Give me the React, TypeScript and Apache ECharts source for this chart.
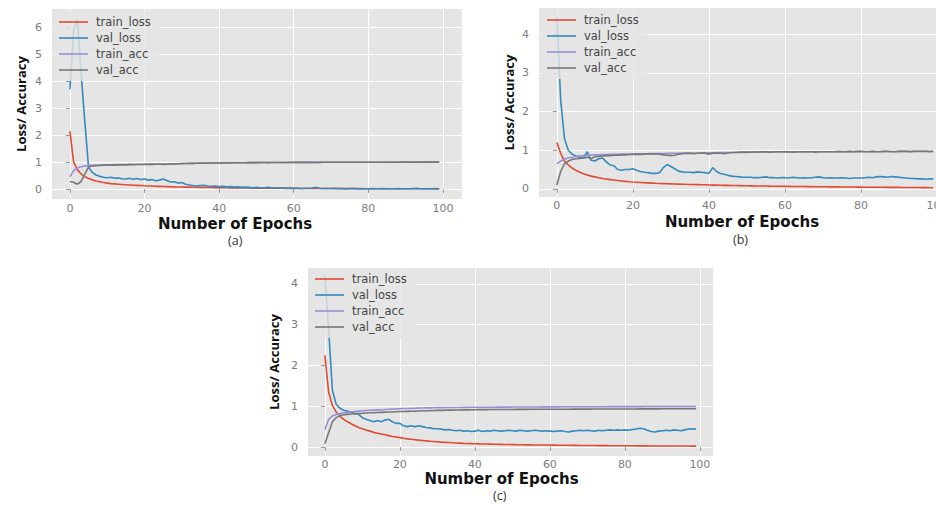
import React, { useEffect, useRef } from "react";
import * as echarts from "echarts";

// ---------- data ----------
const SERIES_NAMES = ["train_loss", "val_loss", "train_acc", "val_acc"];
const X_TICKS = [0, 20, 40, 60, 80, 100];
const Y_TICKS_A = [0, 1, 2, 3, 4, 5, 6];
const Y_TICKS_B = [0, 1, 2, 3, 4];
const Y_TICKS_C = [0, 1, 2, 3, 4];
const PANEL_LABELS = ["(a)", "(b)", "(c)"];
const X_TITLE = "Number of Epochs";
const Y_TITLE = "Loss/ Accuracy";

const A_trainLoss = [
  2.15, 1.0, 0.72, 0.56, 0.46, 0.39, 0.34, 0.3, 0.27, 0.24,
  0.22, 0.2, 0.19, 0.18, 0.17, 0.16, 0.15, 0.14, 0.135, 0.13,
  0.12, 0.115, 0.11, 0.105, 0.1, 0.095, 0.09, 0.085, 0.08, 0.078,
  0.075, 0.072, 0.07, 0.067, 0.065, 0.062, 0.06, 0.057, 0.055, 0.052,
  0.05, 0.048, 0.046, 0.044, 0.042, 0.04, 0.039, 0.038, 0.036, 0.035,
  0.034, 0.033, 0.032, 0.031, 0.03, 0.029, 0.028, 0.027, 0.026, 0.025,
  0.024, 0.023, 0.022, 0.022, 0.021, 0.02, 0.02, 0.019, 0.018, 0.018,
  0.017, 0.017, 0.016, 0.016, 0.015, 0.015, 0.014, 0.014, 0.013, 0.013,
  0.012, 0.012, 0.012, 0.011, 0.011, 0.011, 0.01, 0.01, 0.01, 0.01,
  0.009, 0.009, 0.009, 0.009, 0.008, 0.008, 0.008, 0.008, 0.008, 0.007,
];
const A_valLoss = [
  3.7, 5.9, 6.3, 4.3, 2.5, 0.8, 0.62, 0.52, 0.47, 0.44,
  0.42, 0.44, 0.4, 0.41, 0.38, 0.37, 0.4, 0.36, 0.39, 0.35,
  0.37, 0.33, 0.35, 0.31, 0.33, 0.37, 0.32, 0.26, 0.27, 0.22,
  0.24, 0.18, 0.15, 0.13, 0.12, 0.13, 0.14, 0.11, 0.1, 0.11,
  0.09, 0.1, 0.08, 0.09, 0.07, 0.08, 0.06, 0.07, 0.06, 0.05,
  0.06, 0.05, 0.05, 0.06, 0.05, 0.04, 0.04, 0.05, 0.03, 0.04,
  0.03, 0.03, 0.02, 0.03, 0.03, 0.04, 0.06, 0.03, 0.02, 0.02,
  0.02, 0.03, 0.02, 0.02, 0.01, 0.02, 0.02, 0.01, 0.02, 0.01,
  0.01, 0.02, 0.01, 0.01, 0.02, 0.01, 0.01, 0.01, 0.02, 0.01,
  0.01, 0.01, 0.02, 0.03, 0.01, 0.01, 0.01, 0.01, 0.02, 0.01,
];
const A_trainAcc = [
  0.45, 0.68, 0.78, 0.83, 0.86, 0.87, 0.88, 0.885, 0.89, 0.895,
  0.9, 0.902, 0.905, 0.907, 0.91, 0.912, 0.914, 0.916, 0.918, 0.92,
  0.921, 0.922, 0.924, 0.925, 0.927, 0.929, 0.931, 0.934, 0.937, 0.94,
  0.943, 0.946, 0.949, 0.952, 0.955, 0.958, 0.96, 0.962, 0.965, 0.967,
  0.969, 0.97, 0.972, 0.973, 0.974, 0.975, 0.976, 0.977, 0.978, 0.979,
  0.98, 0.981, 0.982, 0.983, 0.984, 0.985, 0.985, 0.986, 0.987, 0.987,
  0.988, 0.988, 0.989, 0.989, 0.99, 0.99, 0.99, 0.991, 0.991, 0.991,
  0.992, 0.992, 0.992, 0.993, 0.993, 0.993, 0.993, 0.994, 0.994, 0.994,
  0.994, 0.995, 0.995, 0.995, 0.995, 0.995, 0.996, 0.996, 0.996, 0.996,
  0.996, 0.997, 0.997, 0.997, 0.997, 0.997, 0.997, 0.998, 0.998, 0.998,
];
const A_valAcc = [
  0.28, 0.25, 0.18, 0.28, 0.55, 0.82, 0.86, 0.87, 0.875, 0.88,
  0.885, 0.89, 0.888, 0.895, 0.9, 0.898, 0.905, 0.9, 0.91, 0.908,
  0.912, 0.915, 0.913, 0.918, 0.92, 0.915, 0.922, 0.93, 0.935, 0.94,
  0.945, 0.95, 0.955, 0.952, 0.958, 0.96, 0.955, 0.963, 0.966, 0.965,
  0.968, 0.97, 0.972, 0.97, 0.974, 0.975, 0.977, 0.976, 0.978, 0.98,
  0.979, 0.982, 0.983, 0.98, 0.984, 0.985, 0.986, 0.985, 0.987, 0.988,
  0.988, 0.989, 0.99, 0.989, 0.99, 0.988, 0.985, 0.99, 0.991, 0.992,
  0.992, 0.991, 0.993, 0.993, 0.994, 0.993, 0.994, 0.995, 0.994, 0.995,
  0.995, 0.995, 0.996, 0.995, 0.996, 0.996, 0.996, 0.997, 0.996, 0.997,
  0.997, 0.997, 0.996, 0.995, 0.997, 0.998, 0.998, 0.997, 0.998, 0.998,
];

const B_trainLoss = [
  1.2, 0.92, 0.72, 0.62, 0.54, 0.48, 0.43, 0.39, 0.36, 0.33,
  0.31, 0.29, 0.27, 0.255, 0.24, 0.23, 0.215, 0.205, 0.195, 0.185,
  0.178, 0.172, 0.166, 0.16, 0.155, 0.15, 0.145, 0.141, 0.137, 0.133,
  0.13, 0.127, 0.124, 0.121, 0.118, 0.115, 0.112, 0.11, 0.107, 0.105,
  0.1, 0.098, 0.096, 0.094, 0.092, 0.09, 0.088, 0.086, 0.084, 0.082,
  0.08, 0.079, 0.077, 0.076, 0.074, 0.073, 0.071, 0.07, 0.068, 0.067,
  0.065, 0.064, 0.063, 0.062, 0.061, 0.06, 0.059, 0.058, 0.057, 0.056,
  0.055, 0.054, 0.053, 0.052, 0.051, 0.05, 0.049, 0.048, 0.047, 0.046,
  0.045, 0.044, 0.044, 0.043, 0.042, 0.041, 0.041, 0.04, 0.039, 0.039,
  0.038, 0.037, 0.037, 0.036, 0.035, 0.034, 0.033, 0.032, 0.031, 0.03,
];
const B_valLoss = [
  4.45, 2.3, 1.3, 1.0, 0.9, 0.85, 0.82, 0.8, 0.96, 0.74,
  0.72, 0.78, 0.8, 0.7, 0.62, 0.6, 0.5, 0.48, 0.5, 0.5,
  0.52, 0.48, 0.45, 0.43, 0.42, 0.4, 0.4, 0.42, 0.55, 0.63,
  0.58, 0.52, 0.46, 0.44, 0.43, 0.43, 0.42, 0.44, 0.43, 0.42,
  0.4, 0.55, 0.45, 0.4, 0.38, 0.35, 0.33, 0.32, 0.31, 0.3,
  0.3, 0.3, 0.29, 0.29, 0.3, 0.31, 0.29, 0.29, 0.28, 0.29,
  0.29, 0.28, 0.3, 0.29, 0.28, 0.29, 0.28, 0.29, 0.3, 0.31,
  0.29, 0.28, 0.29, 0.28, 0.28, 0.29, 0.28, 0.27, 0.28, 0.28,
  0.28, 0.29, 0.3, 0.29, 0.31, 0.32, 0.31, 0.3, 0.32, 0.31,
  0.3, 0.29, 0.28, 0.27, 0.27, 0.26, 0.26, 0.25, 0.26, 0.26,
];
const B_trainAcc = [
  0.65, 0.72, 0.77, 0.8, 0.82, 0.84, 0.85, 0.86, 0.87, 0.875,
  0.88, 0.883, 0.886, 0.889, 0.892, 0.895, 0.897, 0.899, 0.901, 0.903,
  0.905, 0.907, 0.908, 0.91, 0.911, 0.913, 0.914, 0.916, 0.917, 0.918,
  0.92, 0.921, 0.923, 0.924, 0.925, 0.927, 0.928, 0.93, 0.931, 0.933,
  0.935, 0.936, 0.937, 0.938, 0.939, 0.94, 0.941, 0.942, 0.943, 0.944,
  0.945, 0.946, 0.947, 0.948, 0.949, 0.95, 0.951, 0.952, 0.953, 0.954,
  0.955, 0.955, 0.956, 0.957, 0.957, 0.958, 0.958, 0.959, 0.959, 0.96,
  0.96, 0.961, 0.961, 0.962, 0.962, 0.963, 0.963, 0.964, 0.964, 0.965,
  0.965, 0.966, 0.966, 0.967, 0.967, 0.968, 0.968, 0.968, 0.969, 0.969,
  0.97, 0.97, 0.971, 0.971, 0.972, 0.972, 0.973, 0.973, 0.974, 0.975,
];
const B_valAcc = [
  0.1, 0.45, 0.65, 0.72, 0.76, 0.78, 0.79, 0.8, 0.82, 0.78,
  0.83, 0.84, 0.85, 0.86, 0.86, 0.87, 0.87, 0.88, 0.88, 0.89,
  0.89, 0.9, 0.89, 0.9, 0.91, 0.9, 0.91, 0.9, 0.88, 0.87,
  0.86, 0.87, 0.9, 0.91, 0.92, 0.92, 0.91, 0.92, 0.93, 0.92,
  0.9, 0.92, 0.93, 0.92, 0.91, 0.93, 0.94, 0.94, 0.95, 0.95,
  0.95, 0.95, 0.96, 0.95, 0.96, 0.96, 0.95, 0.96, 0.96, 0.96,
  0.96, 0.96, 0.95, 0.96, 0.96, 0.96, 0.96, 0.96, 0.95, 0.96,
  0.96, 0.96, 0.96, 0.96, 0.97, 0.96, 0.96, 0.97, 0.96, 0.97,
  0.97, 0.96, 0.96, 0.97, 0.96, 0.96, 0.97, 0.97, 0.96, 0.96,
  0.97, 0.97, 0.97, 0.96, 0.97, 0.97, 0.97, 0.97, 0.96, 0.97,
];

const C_trainLoss = [
  2.25, 1.35, 1.02, 0.86, 0.76, 0.68, 0.62, 0.57, 0.52, 0.48,
  0.45, 0.42, 0.39, 0.36, 0.34, 0.32, 0.3, 0.28, 0.26, 0.245,
  0.23, 0.215, 0.2, 0.19, 0.18, 0.17, 0.16, 0.15, 0.14, 0.135,
  0.13, 0.12, 0.115, 0.11, 0.105, 0.1, 0.095, 0.09, 0.087, 0.084,
  0.08, 0.078, 0.075, 0.073, 0.071, 0.069, 0.067, 0.065, 0.063, 0.061,
  0.06, 0.058, 0.057, 0.055, 0.054, 0.052, 0.051, 0.05, 0.049, 0.048,
  0.047, 0.046, 0.045, 0.044, 0.043, 0.042, 0.041, 0.04, 0.039, 0.038,
  0.038, 0.037, 0.036, 0.035, 0.035, 0.034, 0.033, 0.033, 0.032, 0.031,
  0.031, 0.03, 0.03, 0.029, 0.029, 0.028, 0.028, 0.027, 0.027, 0.026,
  0.026, 0.026, 0.025, 0.025, 0.025, 0.024, 0.024, 0.024, 0.023, 0.023,
];
const C_valLoss = [
  4.2, 2.9, 1.4, 1.05, 0.95, 0.9, 0.88, 0.85, 0.82, 0.8,
  0.72, 0.68, 0.65, 0.62, 0.65, 0.62, 0.66, 0.68, 0.62, 0.58,
  0.58, 0.52, 0.5, 0.52, 0.5, 0.52, 0.5, 0.48, 0.47, 0.45,
  0.45, 0.44, 0.42, 0.43, 0.41, 0.4, 0.41, 0.39, 0.4, 0.38,
  0.39, 0.41, 0.38, 0.4, 0.39, 0.41, 0.4, 0.39, 0.4, 0.41,
  0.4, 0.39, 0.41, 0.4, 0.39, 0.4, 0.41, 0.4, 0.39, 0.4,
  0.39, 0.38, 0.39, 0.4, 0.38, 0.37, 0.39, 0.4, 0.41, 0.4,
  0.41, 0.4, 0.39, 0.41, 0.4, 0.41, 0.42, 0.41, 0.42, 0.41,
  0.42, 0.41, 0.43, 0.44, 0.46, 0.45, 0.41, 0.38, 0.37, 0.39,
  0.4, 0.41, 0.4, 0.42, 0.41, 0.4, 0.42, 0.44, 0.45, 0.44,
];
const C_trainAcc = [
  0.43, 0.68, 0.76, 0.8, 0.82, 0.84, 0.85, 0.86, 0.87, 0.88,
  0.89, 0.895, 0.9, 0.905, 0.91, 0.915, 0.92, 0.925, 0.93, 0.935,
  0.94, 0.943, 0.946, 0.949, 0.952, 0.955, 0.957, 0.959, 0.961, 0.963,
  0.965, 0.966, 0.967, 0.968, 0.969, 0.97, 0.971, 0.972, 0.973, 0.974,
  0.975, 0.975, 0.976, 0.976, 0.977, 0.977, 0.978, 0.978, 0.979, 0.979,
  0.98, 0.98, 0.981, 0.981, 0.982, 0.982, 0.983, 0.983, 0.984, 0.984,
  0.985, 0.985, 0.985, 0.986, 0.986, 0.986, 0.987, 0.987, 0.987, 0.988,
  0.988, 0.988, 0.989, 0.989, 0.989, 0.989, 0.99, 0.99, 0.99, 0.99,
  0.99, 0.991, 0.991, 0.991, 0.991, 0.992, 0.992, 0.992, 0.992, 0.993,
  0.993, 0.993, 0.993, 0.994, 0.994, 0.994, 0.994, 0.995, 0.995, 0.995,
];
const C_valAcc = [
  0.08, 0.35, 0.62, 0.72, 0.77, 0.79, 0.8, 0.81, 0.82, 0.82,
  0.83, 0.835, 0.84, 0.84, 0.845, 0.85, 0.855, 0.86, 0.86, 0.865,
  0.87, 0.872, 0.875, 0.878, 0.88, 0.885, 0.888, 0.89, 0.892, 0.895,
  0.898, 0.9, 0.902, 0.904, 0.905, 0.907, 0.908, 0.91, 0.912, 0.913,
  0.915, 0.916, 0.917, 0.918, 0.919, 0.92, 0.92, 0.921, 0.921, 0.922,
  0.922, 0.923, 0.923, 0.924, 0.924, 0.925, 0.925, 0.925, 0.926, 0.926,
  0.927, 0.927, 0.927, 0.928, 0.928, 0.928, 0.929, 0.929, 0.929, 0.93,
  0.93, 0.93, 0.931, 0.931, 0.931, 0.932, 0.932, 0.932, 0.933, 0.933,
  0.933, 0.934, 0.934, 0.934, 0.935, 0.935, 0.935, 0.936, 0.936, 0.936,
  0.937, 0.937, 0.937, 0.938, 0.938, 0.938, 0.939, 0.939, 0.94, 0.94,
];

// ---------- styles / layout ----------
const COLORS = ["#E24A33", "#348ABD", "#988ED5", "#777777"];
const PANEL_BG = "#E5E5E5";
const TICK_COLOR = "#7c7c7c";

const PANELS = [
  {
    data: [A_trainLoss, A_valLoss, A_trainAcc, A_valAcc],
    yTicks: Y_TICKS_A,
    grid: { left: 52, top: 9, width: 410, height: 190 },
    x: [-4.8, 105.1],
    y: [-0.37, 6.68],
    legend: { left: 53, top: 11 },
    xLabelMargin: 4,
    xNameGap: 16.5,
    xNameShift: 22,
    yNameGap: 25,
    label: { x: 237, y: 242 },
  },
  {
    data: [B_trainLoss, B_valLoss, B_trainAcc, B_valAcc],
    yTicks: Y_TICKS_B,
    grid: { left: 539, top: 8, width: 414, height: 189 },
    x: [-4.7, 104.2],
    y: [-0.21, 4.68],
    legend: { left: 541, top: 9 },
    xLabelMargin: 3,
    xNameGap: 16,
    xNameShift: 4,
    yNameGap: 24,
    label: { x: 742, y: 241 },
  },
  {
    data: [C_trainLoss, C_valLoss, C_trainAcc, C_valAcc],
    yTicks: Y_TICKS_C,
    grid: { left: 308, top: 268, width: 405, height: 188 },
    x: [-4.5, 103.5],
    y: [-0.22, 4.39],
    legend: { left: 309, top: 268 },
    xLabelMargin: 2.5,
    xNameGap: 14.5,
    xNameShift: 9,
    yNameGap: 28,
    label: { x: 502, y: 497 },
  },
];

function buildOption() {
  const grid: any[] = [];
  const xAxis: any[] = [];
  const yAxis: any[] = [];
  const series: any[] = [];
  const legend: any[] = [];
  const graphic: any[] = [];

  PANELS.forEach((p, i) => {
    grid.push({
      ...p.grid,
      show: true,
      backgroundColor: PANEL_BG,
      borderWidth: 0,
      containLabel: false,
      outerBoundsMode: "none",
    });
    xAxis.push({
      type: "value",
      gridIndex: i,
      min: p.x[0],
      max: p.x[1],
      name: X_TITLE,
      nameLocation: "middle",
      nameGap: p.xNameGap,
      nameTextStyle: {
        fontFamily: "DejaVu Sans",
        fontWeight: "bold",
        fontSize: 15,
        lineHeight: 17,
        color: "#111",
        padding: [0, p.xNameShift * 2, 0, 0],
      },
      axisLine: { show: false },
      axisTick: {
        show: true,
        length: 4,
        lineStyle: { color: "#999", width: 1 },
        customValues: X_TICKS,
      },
      axisLabel: {
        show: true,
        margin: p.xLabelMargin,
        color: TICK_COLOR,
        fontFamily: "DejaVu Sans",
        fontSize: 11,
        lineHeight: 11,
        customValues: X_TICKS,
      },
      splitLine: { show: true, lineStyle: { color: "#ffffff", width: 1 } },
    });
    yAxis.push({
      type: "value",
      gridIndex: i,
      min: p.y[0],
      max: p.y[1],
      name: Y_TITLE,
      nameLocation: "middle",
      nameGap: p.yNameGap,
      nameTextStyle: {
        fontFamily: "Open Sans",
        fontWeight: "bold",
        fontSize: 13,
        lineHeight: 13,
        color: "#111",
      },
      axisLine: { show: false },
      axisTick: {
        show: true,
        length: 4,
        lineStyle: { color: "#999", width: 1 },
        customValues: p.yTicks,
      },
      axisLabel: {
        show: true,
        margin: 10,
        color: TICK_COLOR,
        fontFamily: "DejaVu Sans",
        fontSize: 11,
        customValues: p.yTicks,
      },
      splitLine: { show: true, lineStyle: { color: "#ffffff", width: 1 } },
    });
    p.data.forEach((arr, k) => {
      series.push({
        type: "line",
        name: SERIES_NAMES[k],
        xAxisIndex: i,
        yAxisIndex: i,
        data: arr.map((v, e) => [e, v]),
        symbol: "none",
        showSymbol: false,
        clip: true,
        silent: true,
        lineStyle: { color: COLORS[k], width: 1.6 },
        itemStyle: { color: COLORS[k] },
        z: 2 + k,
      });
    });
    legend.push({
      orient: "vertical",
      left: p.legend.left,
      top: p.legend.top,
      data: SERIES_NAMES.map((n) => ({ name: n, icon: "rect" })),
      selectedMode: false,
      itemWidth: 29,
      itemHeight: 1.6,
      itemGap: 4,
      padding: [5, 8, 5, 6],
      backgroundColor: "rgba(229,229,229,0.8)",
      borderRadius: 3,
      textStyle: {
        fontFamily: "DejaVu Sans",
        fontSize: 11.5,
        color: "#444",
        lineHeight: 10,
        padding: [0, 0, 0, 3],
      },
    });
    graphic.push({
      type: "text",
      left: p.label.x - 9,
      top: p.label.y - 8,
      style: {
        text: PANEL_LABELS[i],
        fontFamily: "Open Sans",
        fontSize: 12.5,
        fill: "#333",
      },
    });
  });

  return {
    animation: false,
    backgroundColor: "#ffffff",
    grid,
    xAxis,
    yAxis,
    series,
    legend,
    graphic,
  };
}

export default function App() {
  const ref = useRef<HTMLDivElement>(null);
  useEffect(() => {
    document.body.style.margin = "0";
    if (!ref.current) return;
    const chart = echarts.init(ref.current, undefined, { renderer: "svg" });
    chart.setOption(buildOption() as any);
    return () => chart.dispose();
  }, []);
  return <div ref={ref} style={{ width: 936, height: 507, overflow: "hidden" }} />;
}
